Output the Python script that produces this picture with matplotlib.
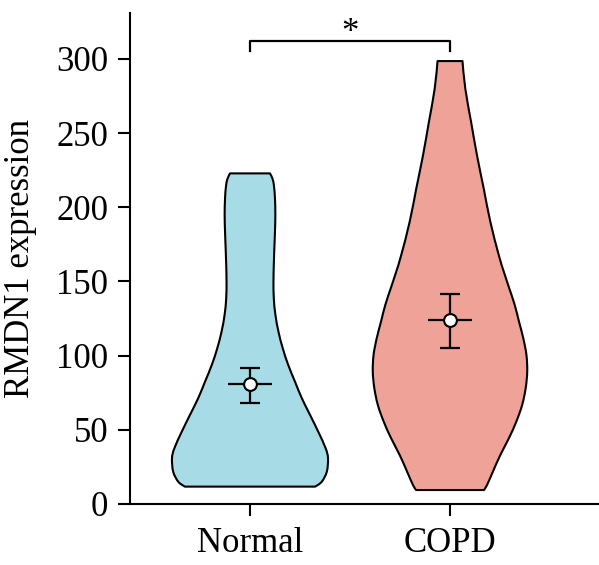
import numpy as np
import matplotlib
matplotlib.use("Agg")
import matplotlib.pyplot as plt
from matplotlib.path import Path
from matplotlib.patches import PathPatch

# ---------------- data ----------------
categories = ["Normal", "COPD"]
means = [80.9, 124.0]
err_upper = [91.9, 141.5]
err_lower = [68.3, 104.9]

# violin outlines: value level and relative density (1 = widest)
normal_y = [11.7, 15, 21.8, 30.8, 37.5, 48.7, 60, 71.2, 82.4, 93.7, 104.9, 116.1,
            127.4, 138.6, 150, 161, 172, 183.5, 195, 206, 214, 219, 222.8]
normal_density = [0.835, 0.92, 0.985, 1.00, 0.97, 0.875, 0.77, 0.665, 0.577, 0.49,
                  0.42, 0.365, 0.326, 0.305, 0.301, 0.305, 0.312, 0.32, 0.325, 0.32,
                  0.308, 0.29, 0.256]
copd_y = [9.4, 12.8, 21.8, 33, 44.3, 55.5, 66.7, 78, 89.2, 100.4, 111.6, 122.8,
          134.1, 145.3, 156.5, 167.8, 190.2, 212.7, 235, 257.6, 280, 298.5]
copd_density = [0.435, 0.475, 0.55, 0.645, 0.755, 0.85, 0.925, 0.97, 0.99, 0.98, 0.94,
                 0.885, 0.83, 0.76, 0.69, 0.625, 0.517, 0.432, 0.346, 0.27, 0.196,
                 0.16]
violin_y = [normal_y, copd_y]
violin_density = [normal_density, copd_density]

yticks = [0, 50, 100, 150, 200, 250, 300]
ylabel = "RMDN1 expression"
sig_label = "*"
sig_height = 312
sig_drop = 6.5

# ---------------- style ----------------
colors = ["#A7DBE6", "#EFA398"]
half_width = 0.39
fs = 25
serif = ["Liberation Serif", "DejaVu Serif"]
plt.rcParams["font.family"] = serif


def smooth_side(xs, ys):
    """Bezier (Catmull-Rom) vertices through the outline points of one side."""
    pts = np.column_stack([xs, ys])
    n = len(pts)
    verts, codes = [], []
    for k in range(n - 1):
        p0 = pts[max(k - 1, 0)]
        p1 = pts[k]
        p2 = pts[k + 1]
        p3 = pts[min(k + 2, n - 1)]
        c1 = p1 + (p2 - p0) / 6.0
        c2 = p2 - (p3 - p1) / 6.0
        verts += [c1, c2, p2]
        codes += [Path.CURVE4] * 3
    return verts, codes


fig = plt.figure(figsize=(5.99, 5.65), dpi=100)
ax = fig.add_axes([0.2162, 0.108, 0.7838, 0.869])

for i, (ys, dens) in enumerate(zip(violin_y, violin_density)):
    ys = np.asarray(ys, float)
    w = np.asarray(dens, float) * half_width
    lx, ly = i - w, ys
    rx, ry = (i + w)[::-1], ys[::-1]
    verts = [(lx[0], ly[0])]
    codes = [Path.MOVETO]
    v, c = smooth_side(lx, ly)
    verts += v; codes += c
    verts.append((rx[0], ry[0])); codes.append(Path.LINETO)
    v, c = smooth_side(rx, ry)
    verts += v; codes += c
    verts.append((lx[0], ly[0])); codes.append(Path.CLOSEPOLY)
    patch = PathPatch(Path(verts, codes), facecolor=colors[i], edgecolor="black",
                      linewidth=1.5, joinstyle="round", zorder=2)
    ax.add_patch(patch)

    m = means[i]
    ax.errorbar(i, m, yerr=[[m - err_lower[i]], [err_upper[i] - m]], fmt="none",
                ecolor="black", elinewidth=1.6, capsize=7, capthick=1.6, zorder=3)
    ax.plot([i - 0.11, i + 0.11], [m, m], color="black", lw=1.6, zorder=3,
            solid_capstyle="butt")
    ax.plot(i, m, "o", ms=9.2, mfc="white", mec="black", mew=1.5, zorder=4)

# significance bracket
ax.plot([0, 0, 1, 1], [sig_height - sig_drop, sig_height, sig_height, sig_height - sig_drop],
        color="black", lw=1.6, clip_on=False, zorder=3)
ax.text(0.5, 311.5, sig_label, ha="center", va="baseline", fontsize=fs, family=serif)

ax.set_xlim(-0.6025, 1.745)
ax.set_ylim(0, 330.9)
ax.set_xticks(range(len(categories)))
ax.set_xticklabels(categories)
ax.set_yticks(yticks)
ax.set_ylabel(ylabel, fontsize=fs, labelpad=14)

for s in ["top", "right"]:
    ax.spines[s].set_visible(False)
for s in ["left", "bottom"]:
    ax.spines[s].set_linewidth(1.5)
ax.tick_params(axis="both", which="major", length=8.3, width=1.5, labelsize=fs,
               direction="out", color="black")
ax.tick_params(axis="y", pad=7)
ax.tick_params(axis="x", pad=8)

fig.savefig("out.png", dpi=100)
